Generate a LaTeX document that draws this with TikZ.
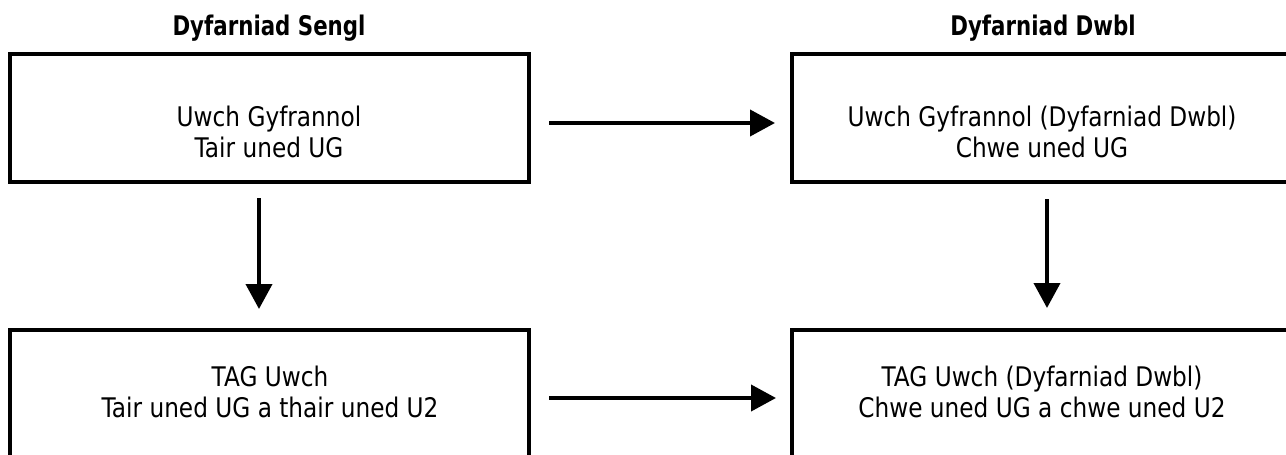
\documentclass[tikz,border=0pt]{standalone}
\usepackage{fontspec}
\setmainfont[FakeStretch=0.86]{DejaVu Sans}
\newfontfamily\headfont[FakeStretch=0.79]{DejaVu Sans Bold}
\usepackage{tikz}
\usetikzlibrary{positioning,arrows.meta}

\begin{document}
\begin{tikzpicture}[x=1pt,y=-1pt]
		\tikzstyle{every node}+=[inner sep=0pt]
		\tikzstyle{unitbox}=[draw=black, line width=4pt, minimum width=519pt, minimum height=128pt]
		\tikzstyle{unittext}=[align=center, anchor=north, font=\fontsize{27}{31}\selectfont]
		\tikzstyle{heading}=[anchor=base, font=\fontsize{27}{31}\selectfont\headfont]
		\tikzstyle{flow}=[black, line width=4pt, -{Triangle[length=25pt,width=26pt]}]
		\useasboundingbox (0,0) rectangle (1286,455);
		\node [heading] (singlehead) at (269,35) {Dyfarniad Sengl};
		\node [heading] (doublehead) at (1043,35) {Dyfarniad Dwbl};
		\node [unitbox] (as) at (269.5,118) {};
		\node [unitbox] (asdouble) at (1051.5,118) {};
		\node [unitbox] (al) at (269.5,394) {};
		\node [unitbox] (aldouble) at (1051.5,394) {};
		\node [unittext] (astext) at (269,106) {Uwch Gyfrannol\\Tair uned UG};
		\node [unittext] (asdoubletext) at (1042,106) {Uwch Gyfrannol (Dyfarniad Dwbl)\\Chwe uned UG};
		\node [unittext] (altext) at (270,366) {TAG Uwch\\Tair uned UG a thair uned U2};
		\node [unittext] (aldoubletext) at (1042,366) {TAG Uwch (Dyfarniad Dwbl)\\Chwe uned UG a chwe uned U2};
		\draw [flow] ([shift={(18,5)}]as.east) -- ([shift={(-15,5)}]asdouble.west);
		\draw [flow] ([shift={(18,4)}]al.east) -- ([shift={(-14,4)}]aldouble.west);
		\draw [flow] ([shift={(-10.5,14)}]as.south) -- ([shift={(-10.5,-19)}]al.north);
		\draw [flow] ([shift={(-4.5,15)}]asdouble.south) -- ([shift={(-4.5,-20)}]aldouble.north);
\end{tikzpicture}
\end{document}
